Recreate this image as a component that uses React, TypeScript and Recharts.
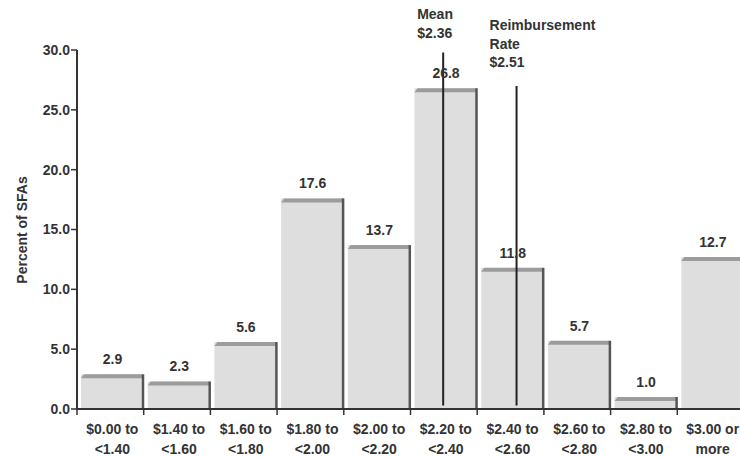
import React from "react";
import {
  BarChart,
  Bar,
  XAxis,
  YAxis,
  ReferenceLine,
  LabelList,
  Label,
} from "recharts";

const categories = [
  "$0.00 to|<1.40",
  "$1.40 to|<1.60",
  "$1.60 to|<1.80",
  "$1.80 to|<2.00",
  "$2.00 to|<2.20",
  "$2.20 to|<2.40",
  "$2.40 to|<2.60",
  "$2.60 to|<2.80",
  "$2.80 to|<3.00",
  "$3.00 or|more",
];
const percentOfSFAs = [2.9, 2.3, 5.6, 17.6, 13.7, 26.8, 11.8, 5.7, 1.0, 12.7];
const yTicks = [0, 5, 10, 15, 20, 25, 30];
const boundaryTicks = [0, 1, 2, 3, 4, 5, 6, 7, 8, 9, 10];

// reference lines: label lines, position on the bin scale (0..10), extent in percent
const meanLabel = ["Mean", "$2.36"];
const meanPos = 5.49;
const meanExtent = [0.3, 29.8];
const reimbLabel = ["Reimbursement", "Rate", "$2.51"];
const reimbPos = 6.59;
const reimbExtent = [0.3, 27.0];

const data = categories.map((c, i) => ({
  cat: c,
  pos: i + 0.5,
  value: percentOfSFAs[i],
}));

const FONT = "'Liberation Sans', Arial, sans-serif";
const TXT = "#333";

const BarShape = (props: any) => {
  const { x, y, width, height } = props;
  if (!height || height <= 0) return null;
  const l = x + 4;
  const r = x + width - 1;
  const b = y + height;
  return (
    <g>
      <rect x={l} y={y} width={r - l} height={height} fill="#dedede" />
      <polygon
        points={`${l},${y + 4} ${l + 3},${y} ${r},${y} ${r},${y + 4}`}
        fill="#9c9c9c"
      />
      <line x1={r} y1={y} x2={r} y2={b} stroke="#555" strokeWidth={2.5} />
    </g>
  );
};

const CatTick = (props: any) => {
  const { x, y, payload } = props;
  const lines = String(payload.value).split("|");
  return (
    <text
      x={x + 2}
      y={y}
      textAnchor="middle"
      fontFamily={FONT}
      fontSize={14}
      fontWeight="bold"
      fill={TXT}
    >
      {lines.map((t: string, i: number) => (
        <tspan key={i} x={x + 2} dy={i === 0 ? 16 : 20}>
          {t}
        </tspan>
      ))}
    </text>
  );
};

const ValueLabel = (props: any) => {
  const { x, y, width, value } = props;
  return (
    <text
      x={x + width / 2 + 2}
      y={y - 10}
      textAnchor="middle"
      fontFamily={FONT}
      fontSize={14}
      fontWeight="bold"
      fill={TXT}
    >
      {Number(value).toFixed(1)}
    </text>
  );
};

const makeRefLabel = (lines: string[], dxLeft: number, firstBaseline: number) => (p: any) => {
  const vb = p.viewBox || {};
  const x = vb.x;
  return (
    <text fontFamily={FONT} fontSize={14} fontWeight="bold" fill={TXT}>
      {lines.map((t, i) => (
        <tspan key={i} x={x - dxLeft} y={firstBaseline + i * 18.5}>
          {t}
        </tspan>
      ))}
    </text>
  );
};

const YLabel = () => (
  <text
    x={22}
    y={230}
    transform="rotate(-90, 22, 230)"
    textAnchor="middle"
    dominantBaseline="central"
    fontFamily={FONT}
    fontSize={14}
    fontWeight="bold"
    fill={TXT}
  >
    Percent of SFAs
  </text>
);

export default function App() {
  React.useEffect(() => {
    document.body.style.margin = "0";
  }, []);
  return (
    <div
      style={{
        position: "absolute",
        left: 0,
        top: 0,
        width: 740,
        height: 457,
        overflow: "hidden",
        background: "#fff",
      }}
    >
      <BarChart
        width={746}
        height={457}
        data={data}
        margin={{ top: 50, right: 2, bottom: 0, left: 0 }}
        barCategoryGap={0}
      >
        <XAxis
          xAxisId="b_cat"
          dataKey="cat"
          height={47}
          axisLine={false}
          tickLine={false}
          tick={<CatTick />}
          interval={0}
        />
        <XAxis
          xAxisId="a_num"
          dataKey="pos"
          type="number"
          domain={[0, 10]}
          ticks={boundaryTicks}
          tick={{ fontSize: 1, fill: "none" }}
          tickFormatter={() => " "}
          height={1}
          axisLine={{ stroke: "#333", strokeWidth: 2 }}
          tickLine={{ stroke: "#333", strokeWidth: 1.5 }}
          tickSize={6}
          allowDataOverflow
        />
        <YAxis
          domain={[0, 30]}
          ticks={yTicks}
          width={77}
          tickFormatter={(v: number) => v.toFixed(1)}
          axisLine={{ stroke: "#333", strokeWidth: 2 }}
          tickLine={{ stroke: "#333", strokeWidth: 1.5 }}
          tickSize={6}
          tickMargin={1}
          tick={{ fontFamily: FONT, fontSize: 14, fontWeight: "bold", fill: TXT }}
        >
          <Label content={<YLabel />} />
        </YAxis>
        <Bar
          xAxisId="b_cat"
          dataKey="value"
          shape={<BarShape />}
          isAnimationActive={false}
        >
          <LabelList dataKey="value" content={<ValueLabel />} />
        </Bar>
        <ReferenceLine
          xAxisId="a_num"
          segment={[
            { x: meanPos, y: meanExtent[0] },
            { x: meanPos, y: meanExtent[1] },
          ]}
          stroke="#222"
          strokeWidth={2}
          label={makeRefLabel(meanLabel, 26, 19)}
        />
        <ReferenceLine
          xAxisId="a_num"
          segment={[
            { x: reimbPos, y: reimbExtent[0] },
            { x: reimbPos, y: reimbExtent[1] },
          ]}
          stroke="#222"
          strokeWidth={2}
          label={makeRefLabel(reimbLabel, 27, 30)}
        />
      </BarChart>
    </div>
  );
}
